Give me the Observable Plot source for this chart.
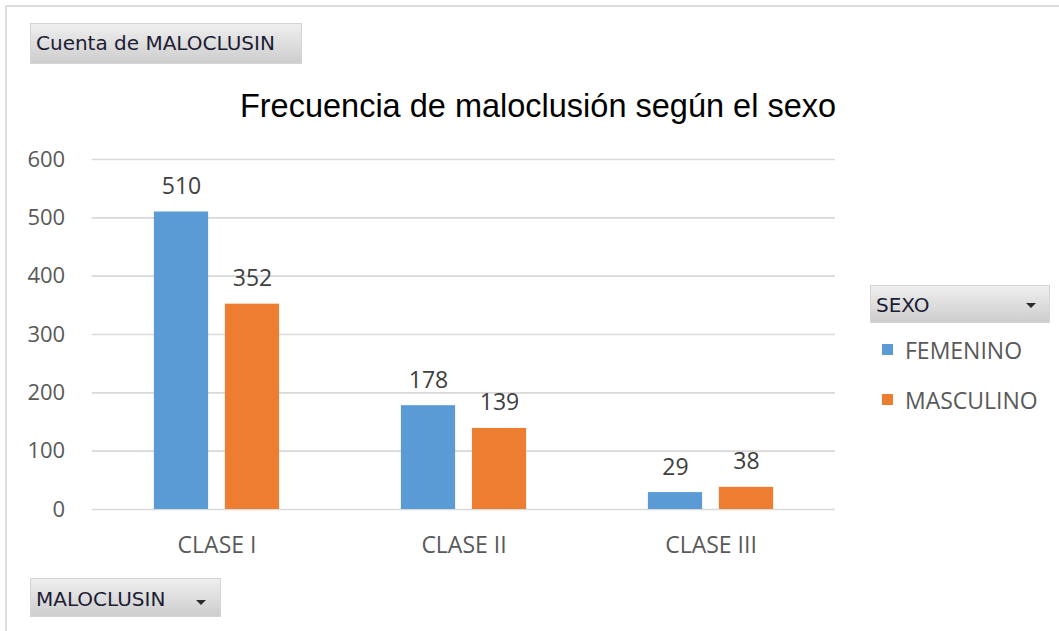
<!DOCTYPE html>
<html>
<head>
<meta charset="utf-8">
<script src="https://cdn.jsdelivr.net/npm/d3@7"></script>
<script src="https://cdn.jsdelivr.net/npm/@observablehq/plot@0.6"></script>
<style>
  html, body { margin: 0; padding: 0; background: #fff; }
  #page { position: relative; width: 1059px; height: 631px; overflow: hidden; background: #fff; }
  .frameTop { position: absolute; left: 5px; top: 5px; right: 0; height: 2px; background: #dcdcdc; }
  .frameLeft { position: absolute; left: 5px; top: 5px; bottom: 0; width: 2px; background: #dcdcdc; }
  .btn { position: absolute; box-sizing: border-box; background: linear-gradient(#efefef, #cdcdcd);
         border: 1px solid #d4d4d4; font-family: "DejaVu Sans", sans-serif; font-size: 20px; color: #1c1c34; }
  .btn span.t { position: absolute; left: 5px; }
  .tri { position: absolute; width: 0; height: 0; border-left: 5px solid transparent; border-right: 5px solid transparent; border-top: 5px solid #2a2a2a; }
  #title { position: absolute; left: 0; width: 1076px; text-align: center; top: 88px; font-family: "Liberation Sans", Arial, sans-serif; font-size: 32.5px; color: #000; white-space: nowrap; }
  #chart { position: absolute; left: 0; top: 0; }
  .leg { position: absolute; font-family: "Open Sans", sans-serif; font-size: 23px; color: #595959; white-space: nowrap; }
  .sw { position: absolute; width: 11px; height: 11px; }
</style>
</head>
<body>
<div id="page">
  <div class="frameTop"></div>
  <div class="frameLeft"></div>
  <div id="chart"></div>
  <div id="title">Frecuencia de maloclusión según el sexo</div>
  <div class="btn" style="left:30px; top:23px; width:272px; height:41px;"><span class="t" style="top:7px;">Cuenta de MALOCLUSIN</span></div>
  <div class="btn" style="left:870px; top:285px; width:180px; height:38px;"><span class="t" style="top:7px;">SEXO</span><div class="tri" style="left:155px; top:17px;"></div></div>
  <div class="btn" style="left:30px; top:578px; width:191px; height:39px;"><span class="t" style="top:8px;">MALOCLUSIN</span><div class="tri" style="left:165px; top:21px;"></div></div>
  <div id="legend"></div>
</div>
<script>
// ---- data ----
const clases = ["CLASE I", "CLASE II", "CLASE III"];
const sexos = ["FEMENINO", "MASCULINO"];
const femenino = [510, 178, 29];
const masculino = [352, 139, 38];
const yTicks = [0, 100, 200, 300, 400, 500, 600];
const colores = ["#5B9BD5", "#ED7D31"];

const series = [femenino, masculino];
const rows = [];
sexos.forEach((s, si) => clases.forEach((c, ci) => rows.push({clase: c, sexo: s, n: series[si][ci]})));

// ---- layout ----
const W = 1059, H = 631;
const mL = 91.7, mR = 224, mT = 159, mB = 122;
const band = (W - mL - mR) / clases.length;
const bw = 55, gap = 16;
const side = (band - (2 * bw + gap)) / 2;

const marks = [
  Plot.gridY(yTicks, {stroke: "#d9d9d9", strokeOpacity: 1, strokeWidth: 1.6}),
  Plot.axisY(yTicks, {tickSize: 0, tickPadding: 27, fontSize: 22, fill: "#595959", fontFamily: "Open Sans"}),
  Plot.axisX({tickSize: 0, tickPadding: 27, fontSize: 23, fill: "#595959", fontFamily: "Open Sans"})
];
sexos.forEach((s, si) => {
  const d = rows.filter(r => r.sexo === s);
  const insetLeft = side + si * (bw + gap);
  const insetRight = band - insetLeft - bw;
  const dx = (si === 0 ? -1 : 1) * (gap / 2 + bw / 2);
  marks.push(Plot.barY(d, {x: "clase", y: "n", fill: colores[si], insetLeft, insetRight}));
  marks.push(Plot.text(d, {x: "clase", y: "n", text: d => String(d.n), dx, dy: -18, lineAnchor: "bottom",
    fontSize: 23, fill: "#404040", fontFamily: "Open Sans"}));
});

const chart = Plot.plot({
  width: W, height: H,
  marginLeft: mL, marginRight: mR, marginTop: mT, marginBottom: mB,
  style: {fontFamily: "Open Sans", background: "transparent", overflow: "visible"},
  x: {type: "band", domain: clases, padding: 0, label: null},
  y: {domain: [0, 600], label: null},
  marks
});
document.getElementById("chart").appendChild(chart);

// ---- legend ----
const leg = document.getElementById("legend");
const legTop = [341, 391];
sexos.forEach((s, i) => {
  const sw = document.createElement("div");
  sw.className = "sw";
  sw.style.left = "882px"; sw.style.top = (legTop[i] + 3) + "px"; sw.style.background = colores[i];
  leg.appendChild(sw);
  const t = document.createElement("div");
  t.className = "leg";
  t.style.left = "905px"; t.style.top = (legTop[i] - 7) + "px";
  t.textContent = s;
  leg.appendChild(t);
});
</script>
</body>
</html>
